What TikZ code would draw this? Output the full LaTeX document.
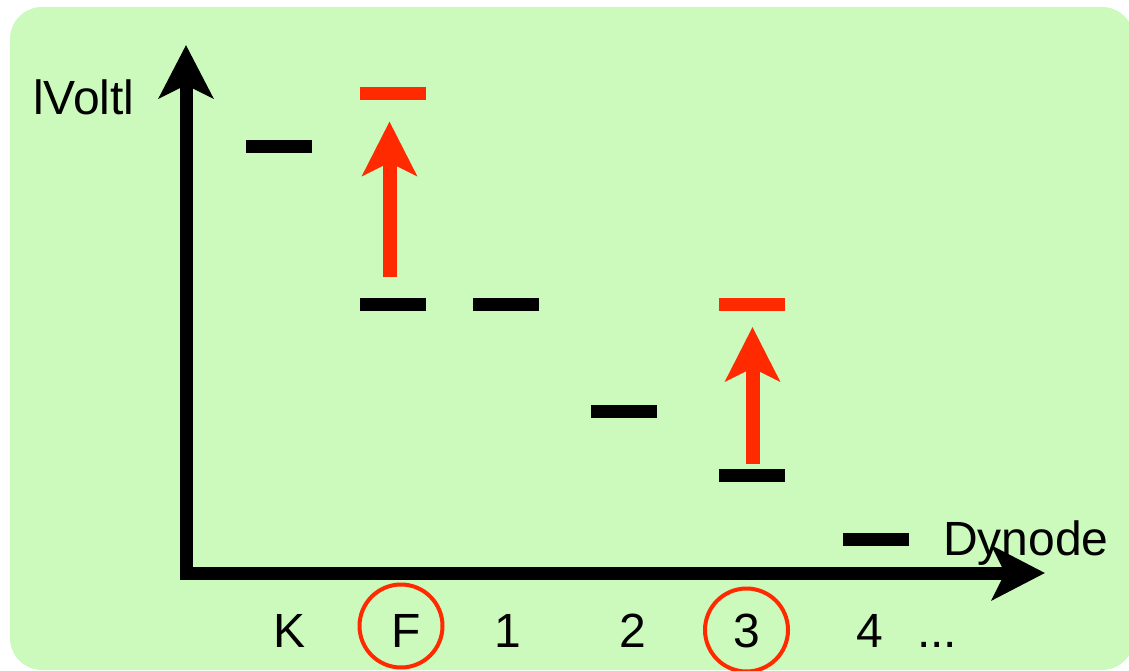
\documentclass[tikz,border=0pt]{standalone}
\usepackage{fontspec}
\setmainfont{Liberation Sans}
\usetikzlibrary{arrows.meta}
\definecolor{bggreen}{RGB}{204,250,188}
\definecolor{hotred}{RGB}{255,42,0}
\tikzset{
  lvl/.style={rectangle,fill=black,minimum width=66pt,minimum height=13pt,inner sep=0pt,outer sep=0pt},
  lvlred/.style={lvl,fill=hotred},
  axis/.style={line width=13pt,-{Stealth[length=53pt,width=54pt,inset=13pt]}},
  uparrow/.style={line width=14pt,draw=hotred,-{Stealth[length=54pt,width=54pt,inset=13pt,fill=hotred]}},
  lbl/.style={font=\fontsize{48}{58}\selectfont,inner sep=0pt,anchor=base},
  ring/.style={circle,draw=hotred,line width=4pt,minimum size=83pt,inner sep=0pt}
}
\begin{document}
\begin{tikzpicture}[x=1pt,y=-1pt]
\useasboundingbox (0,0) rectangle (1129,671);
\fill[bggreen,rounded corners=32pt] (10,7) rectangle (1134,670);
% axes
\coordinate (O) at (186,580);
\coordinate (ytip) at (186,45);
\coordinate (xstart) at (180,573);
\coordinate (xtip) at (1045,573);
\draw[axis] (O) -- (ytip);
\draw[axis] (xstart) -- (xtip);
% levels
\node[lvl] (k) at (278.5,147) {};
\node[lvl] (fb) at (392.5,304.5) {};
\node[lvlred] (fr) at (392.5,94) {};
\node[lvl] (d1) at (506,304.5) {};
\node[lvl] (d2) at (624,411) {};
\node[lvl] (d3b) at (751.5,475) {};
\node[lvlred] (d3r) at (751.5,304.5) {};
\node[lvl] (d4) at (876,539) {};
% red arrows
\draw[uparrow] ([xshift=-3pt,yshift=21pt]fb.north) -- ([xshift=-3pt,yshift=-21pt]fr.south);
\draw[uparrow] ([xshift=1pt,yshift=5pt]d3b.north) -- ([xshift=1pt,yshift=-16pt]d3r.south);
% labels
\node[lbl,anchor=base west] (volt) at (33,115) {lVoltl};
\node[lbl,anchor=base west] (dyn) at (943,555) {Dynode};
\node[lbl] (tk) at (290,647) {K};
\node[lbl] (tf) at (406,647) {F};
\node[lbl] (t1) at (508,647) {1};
\node[lbl] (t2) at (633,647) {2};
\node[lbl] (t3) at (747,647) {3};
\node[lbl] (t4) at (870,647) {4};
\node[lbl] (tdots) at (937,647) {...};
\node[ring] (cf) at (401,626) {};
\node[ring] (c3) at (746.5,630) {};
\end{tikzpicture}
\end{document}
